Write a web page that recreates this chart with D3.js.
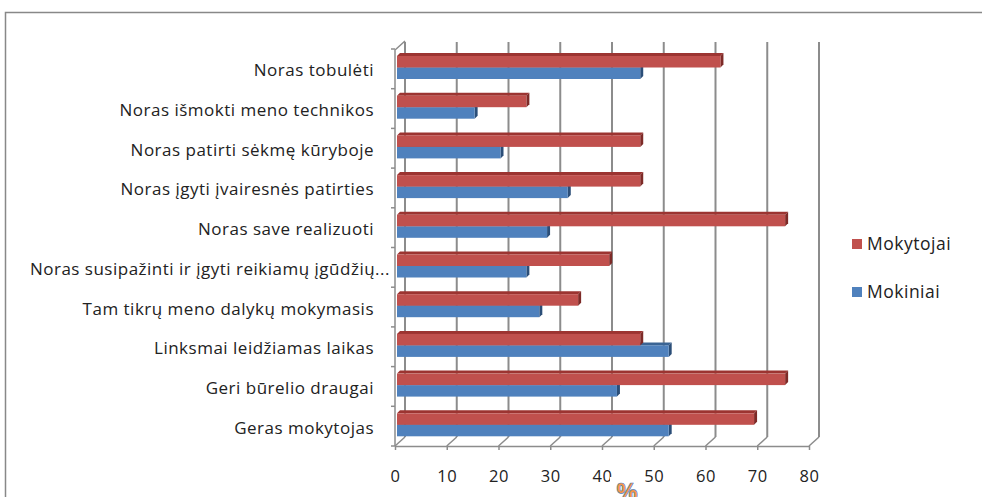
<!DOCTYPE html>
<html>
<head>
<meta charset="utf-8">
<script src="https://cdn.jsdelivr.net/npm/d3@7"></script>
<style>
  body { margin: 0; background: #fff; }
  text { font-family: "Open Sans", sans-serif; fill: #222; }
</style>
</head>
<body>
<script>
var categories = [
  "Noras tobulėti",
  "Noras išmokti meno technikos",
  "Noras patirti sėkmę kūryboje",
  "Noras įgyti įvairesnės patirties",
  "Noras save realizuoti",
  "Noras susipažinti ir įgyti reikiamų įgūdžių...",
  "Tam tikrų meno dalykų mokymasis",
  "Linksmai leidžiamas laikas",
  "Geri būrelio draugai",
  "Geras mokytojas"
];
var mokytojai = [62.5, 25, 47, 47, 75, 41, 35, 47, 75, 69];
var mokiniai = [47, 15, 20, 33, 29, 25, 27.5, 52.5, 42.5, 52.5];
var seriesNames = ["Mokytojai", "Mokiniai"];
var xTicks = [0, 10, 20, 30, 40, 50, 60, 70, 80];

var width = 982,
    height = 497,
    dx = 10, dy = -9,   // depth of the 3d box
    bd = 3;             // depth of the bars

var colors = {
  Mokytojai: { face: "#c0504d", top: "#9c3431", side: "#7d2a27" },
  Mokiniai: { face: "#4f81bd", top: "#3a6494", side: "#2b4e78" }
};

var x = d3.scaleLinear().domain([0, 80]).range([395, 809]);
var xBar = d3.scaleLinear().domain([0, 80]).range([397, 811]);
var y = d3.scaleBand().domain(categories).range([49, 446]);

var svg = d3.select("body").append("svg")
    .attr("width", width)
    .attr("height", height);

// outer frame
svg.append("path")
    .attr("d", "M5.5," + height + "V12.5H" + width)
    .attr("fill", "none")
    .attr("stroke", "#888")
    .attr("stroke-width", 1.5);

var floorY = y.range()[1];

// back wall gridlines
svg.append("g").selectAll("line")
    .data(xTicks)
  .enter().append("line")
    .attr("x1", function(d) { return x(d) + dx; })
    .attr("x2", function(d) { return x(d) + dx; })
    .attr("y1", floorY + dy)
    .attr("y2", y.range()[0] + dy + 2)
    .attr("stroke", "#8c8c8c")
    .attr("stroke-width", 2);

// floor diagonals
svg.append("g").selectAll("line")
    .data(xTicks)
  .enter().append("line")
    .attr("x1", function(d) { return x(d); })
    .attr("x2", function(d) { return x(d) + dx; })
    .attr("y1", floorY)
    .attr("y2", floorY + dy)
    .attr("stroke", "#8c8c8c")
    .attr("stroke-width", 1.5);

// left wall
var wallTop = y.range()[0] + 1;
svg.append("path")
    .attr("d", "M" + x(0) + "," + floorY + "V" + wallTop + "L" + (x(0) + dx) + "," + (wallTop + dy))
    .attr("fill", "none")
    .attr("stroke", "#8c8c8c")
    .attr("stroke-width", 1.5);

// category boundary ticks
var bounds = categories.map(function(c) { return y(c); }).concat([floorY]);
svg.append("g").selectAll("line")
    .data(bounds)
  .enter().append("line")
    .attr("x1", x(0) - 4)
    .attr("x2", x(0))
    .attr("y1", function(d) { return d; })
    .attr("y2", function(d) { return d; })
    .attr("stroke", "#8c8c8c")
    .attr("stroke-width", 1.5);

// bars
function drawBar(g, v, top, h, c) {
  var x0 = xBar(0), x1 = xBar(v);
  g.append("path")
      .attr("d", "M" + x0 + "," + top + "L" + (x0 + bd) + "," + (top - bd) +
                 "H" + (x1 + bd) + "L" + x1 + "," + top + "Z")
      .attr("fill", c.top);
  g.append("path")
      .attr("d", "M" + x1 + "," + top + "L" + (x1 + bd) + "," + (top - bd) +
                 "V" + (top + h - bd) + "L" + x1 + "," + (top + h) + "Z")
      .attr("fill", c.side);
  g.append("rect")
      .attr("x", x0)
      .attr("y", top)
      .attr("width", x1 - x0)
      .attr("height", h)
      .attr("fill", c.face);
}

var bars = svg.append("g");
categories.forEach(function(cat, i) {
  var g = bars.append("g");
  drawBar(g, mokiniai[i], y(cat) + 18.5, 11.5, colors.Mokiniai);
  drawBar(g, mokytojai[i], y(cat) + 7, 11.5, colors.Mokytojai);
});

// category labels
svg.append("g").selectAll("text")
    .data(categories)
  .enter().append("text")
    .attr("x", function(d) { return d.slice(-3) === "..." ? 390 : 374; })
    .attr("y", function(d) { return y(d) + y.bandwidth() / 2 + 7.5; })
    .attr("text-anchor", "end")
    .style("font-size", "17px")
    .style("letter-spacing", "0.5px")
    .text(function(d) { return d; });

// value axis
var axis = svg.append("g")
    .attr("transform", "translate(0," + floorY + ")")
    .call(d3.axisBottom(x).tickValues(xTicks).tickSize(4).tickSizeOuter(0).tickPadding(20));
axis.select(".domain").attr("stroke", "#8c8c8c").attr("stroke-width", 1.5);
axis.selectAll(".tick line").attr("stroke", "#8c8c8c").attr("stroke-width", 1.5);
axis.selectAll(".tick text")
    .style("font-family", "'Open Sans', sans-serif")
    .style("font-size", "16.5px")
    .style("letter-spacing", "0.5px")
    .attr("fill", "#222");

// axis title
svg.append("rect")
    .attr("x", 610).attr("y", 477).attr("width", 34).attr("height", 20)
    .attr("fill", "#fff");
svg.append("text")
    .attr("x", 627)
    .attr("y", 500)
    .attr("text-anchor", "middle")
    .style("font-size", "24px")
    .style("font-weight", "bold")
    .style("fill", "#f79646")
    .style("stroke", "#4f81bd")
    .style("stroke-width", 0.6)
    .text("%");

// legend
var legend = svg.append("g").selectAll("g")
    .data(seriesNames)
  .enter().append("g")
    .attr("transform", function(d, i) { return "translate(852," + (239 + i * 48) + ")"; });
legend.append("rect")
    .attr("width", 10).attr("height", 10)
    .attr("fill", function(d) { return colors[d].face; });
legend.append("text")
    .attr("x", 15)
    .attr("y", 10.5)
    .style("font-size", "17.5px")
    .style("letter-spacing", "0.5px")
    .text(function(d) { return d; });
</script>
</body>
</html>
